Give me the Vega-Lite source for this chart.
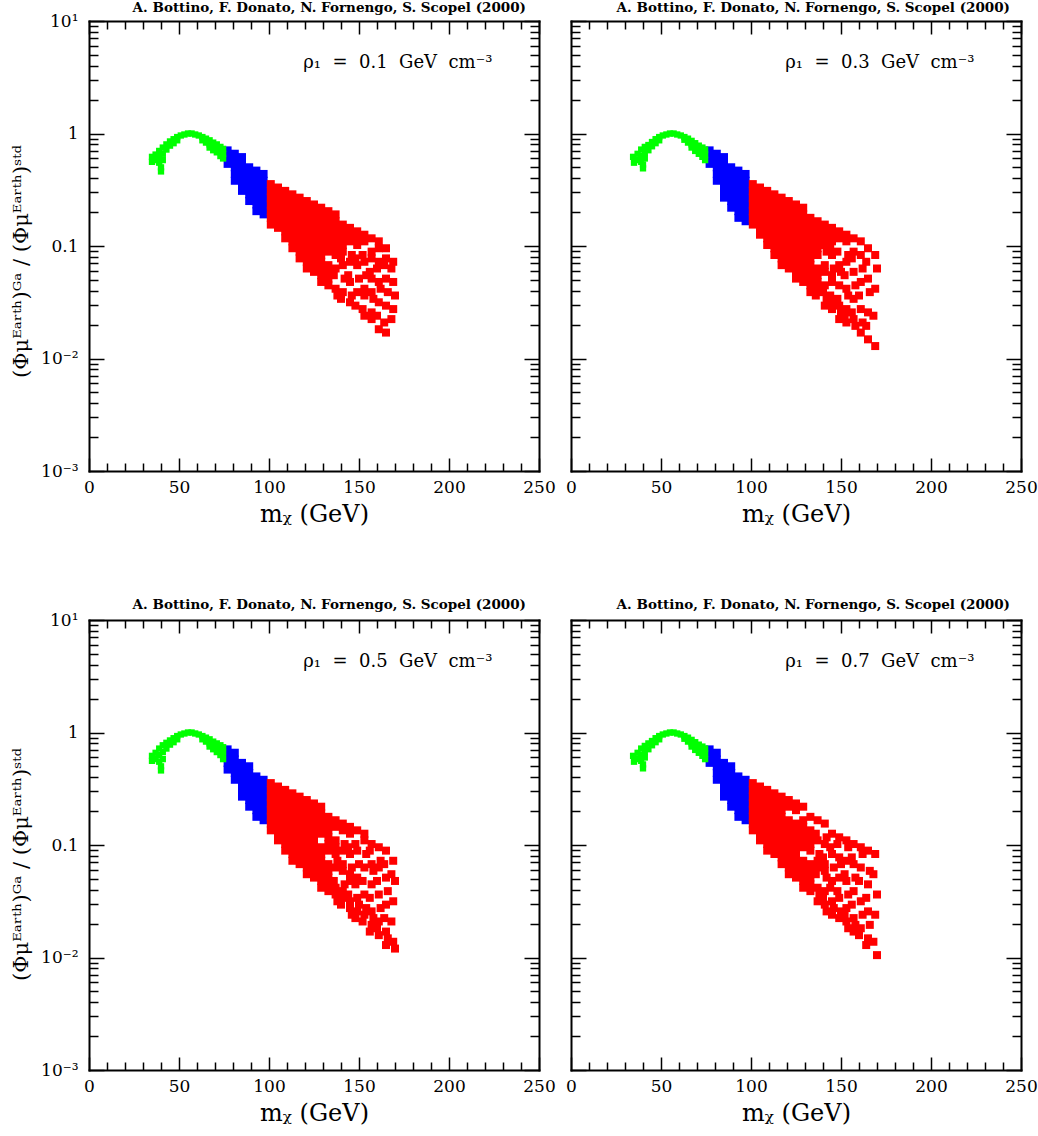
{
  "$schema": "https://vega.github.io/schema/vega-lite/v6.json",
  "background": "white",
  "padding": {"left": 10, "top": 0, "right": 0, "bottom": 2},
  "config": {
    "view": {"stroke": null},
    "axis": {
      "grid": false,
      "domainColor": "#000",
      "domainWidth": 2,
      "domainCap": "square",
      "tickColor": "#000",
      "tickWidth": 1.5,
      "labelFont": "DejaVu Serif",
      "labelFontSize": 17,
      "labelColor": "#000",
      "titleFont": "DejaVu Serif",
      "titleColor": "#000",
      "titleFontWeight": "normal"
    },
    "title": {"font": "DejaVu Serif", "fontSize": 13.5, "fontWeight": "bold", "color": "#000"}
  },
  "datasets": {
    "frame": [{"m": 100, "v": 1}],
    "p01": [
      {"m":35,"v":0.62},{"m":35,"v":0.56},{"m":37,"v":0.65},{"m":37,"v":0.58},{"m":39,"v":0.7},{"m":39,"v":0.62},{"m":39,"v":0.55},{"m":41,"v":0.75},{"m":41,"v":0.66},{"m":41,"v":0.58},{"m":40,"v":0.5},{"m":40,"v":0.46},{"m":43,"v":0.8},{"m":43,"v":0.72},{"m":45,"v":0.85},{"m":45,"v":0.78},{"m":47,"v":0.89},{"m":47,"v":0.82},{"m":49,"v":0.93},{"m":49,"v":0.87},{"m":51,"v":0.96},{"m":53,"v":0.98},{"m":55,"v":1.0},{"m":57,"v":1.0},{"m":59,"v":0.98},{"m":61,"v":0.96},{"m":63,"v":0.93},{"m":63,"v":0.87},{"m":65,"v":0.9},{"m":65,"v":0.83},{"m":67,"v":0.87},{"m":67,"v":0.8},{"m":67,"v":0.75},{"m":69,"v":0.83},{"m":69,"v":0.77},{"m":69,"v":0.71},{"m":71,"v":0.8},{"m":71,"v":0.74},{"m":71,"v":0.68},{"m":73,"v":0.76},{"m":73,"v":0.69},{"m":73,"v":0.63},{"m":74.5,"v":0.73},{"m":74.5,"v":0.66},{"m":74.5,"v":0.6},
      {"m":77,"v":0.708},{"m":77,"v":0.617},{"m":77,"v":0.537},
      {"m":81,"v":0.661},{"m":81,"v":0.575},{"m":81,"v":0.501},{"m":81,"v":0.437},{"m":81,"v":0.38},
      {"m":85,"v":0.617},{"m":85,"v":0.537},{"m":85,"v":0.468},{"m":85,"v":0.407},{"m":85,"v":0.355},{"m":85,"v":0.309},
      {"m":89,"v":0.501},{"m":89,"v":0.437},{"m":89,"v":0.38},{"m":89,"v":0.331},{"m":89,"v":0.288},{"m":89,"v":0.251},
      {"m":93,"v":0.468},{"m":93,"v":0.407},{"m":93,"v":0.355},{"m":93,"v":0.309},{"m":93,"v":0.269},{"m":93,"v":0.234},{"m":93,"v":0.204},
      {"m":97,"v":0.437},{"m":97,"v":0.38},{"m":97,"v":0.331},{"m":97,"v":0.288},{"m":97,"v":0.251},{"m":97,"v":0.219},{"m":97,"v":0.191},
      {"m":101,"v":0.355},{"m":101,"v":0.309},{"m":101,"v":0.269},{"m":101,"v":0.234},{"m":101,"v":0.204},{"m":101,"v":0.178},{"m":101,"v":0.155},
      {"m":105,"v":0.331},{"m":105,"v":0.288},{"m":105,"v":0.251},{"m":105,"v":0.219},{"m":105,"v":0.191},{"m":105,"v":0.166},{"m":105,"v":0.145},
      {"m":109,"v":0.309},{"m":109,"v":0.269},{"m":109,"v":0.234},{"m":109,"v":0.204},{"m":109,"v":0.178},{"m":109,"v":0.155},{"m":109,"v":0.135},{"m":109,"v":0.117},
      {"m":113,"v":0.288},{"m":113,"v":0.251},{"m":113,"v":0.219},{"m":113,"v":0.191},{"m":113,"v":0.166},{"m":113,"v":0.145},{"m":113,"v":0.126},{"m":113,"v":0.11},{"m":113,"v":0.0955},
      {"m":117,"v":0.269},{"m":117,"v":0.234},{"m":117,"v":0.204},{"m":117,"v":0.178},{"m":117,"v":0.155},{"m":117,"v":0.135},{"m":117,"v":0.117},{"m":117,"v":0.102},{"m":117,"v":0.0891},{"m":117,"v":0.0776},
      {"m":121,"v":0.251},{"m":121,"v":0.219},{"m":121,"v":0.191},{"m":121,"v":0.166},{"m":121,"v":0.145},{"m":121,"v":0.126},{"m":121,"v":0.11},{"m":121,"v":0.0955},{"m":121,"v":0.0832},{"m":121,"v":0.0724},{"m":121,"v":0.0631},
      {"m":125,"v":0.234},{"m":125,"v":0.204},{"m":125,"v":0.178},{"m":125,"v":0.155},{"m":125,"v":0.135},{"m":125,"v":0.117},{"m":125,"v":0.102},{"m":125,"v":0.0891},{"m":125,"v":0.0776},{"m":125,"v":0.0676},{"m":125,"v":0.0589},
      {"m":129,"v":0.219},{"m":129,"v":0.191},{"m":129,"v":0.166},{"m":129,"v":0.145},{"m":129,"v":0.126},{"m":129,"v":0.11},{"m":129,"v":0.0955},{"m":129,"v":0.0832},{"m":129,"v":0.0724},{"m":129,"v":0.0631},{"m":129,"v":0.055},{"m":129,"v":0.0479},
      {"m":133,"v":0.204},{"m":133,"v":0.178},{"m":133,"v":0.155},{"m":133,"v":0.135},{"m":133,"v":0.117},{"m":133,"v":0.102},{"m":133,"v":0.0891},{"m":133,"v":0.0676},{"m":133,"v":0.0589},{"m":133,"v":0.0513},{"m":133,"v":0.0447},
      {"m":137,"v":0.191},{"m":137,"v":0.166},{"m":137,"v":0.145},{"m":137,"v":0.126},{"m":137,"v":0.11},{"m":137,"v":0.0955},{"m":137,"v":0.0832},{"m":137,"v":0.0631},{"m":136,"v":0.055},{"m":137,"v":0.0417},{"m":138,"v":0.0363},
      {"m":141,"v":0.155},{"m":141,"v":0.135},{"m":141,"v":0.117},{"m":141,"v":0.102},{"m":141,"v":0.0891},{"m":140,"v":0.0776},{"m":141,"v":0.0676},{"m":142,"v":0.0513},{"m":141,"v":0.0389},{"m":140,"v":0.0339},
      {"m":145,"v":0.145},{"m":145,"v":0.126},{"m":145,"v":0.11},{"m":146,"v":0.0832},{"m":145,"v":0.0724},{"m":144,"v":0.055},{"m":145,"v":0.0479},{"m":146,"v":0.0363},{"m":145,"v":0.0316},
      {"m":149,"v":0.135},{"m":149,"v":0.117},{"m":149,"v":0.102},{"m":148,"v":0.0776},{"m":149,"v":0.0676},{"m":150,"v":0.0513},{"m":149,"v":0.0389},{"m":148,"v":0.0295},
      {"m":153,"v":0.126},{"m":153,"v":0.11},{"m":152,"v":0.0832},{"m":153,"v":0.0724},{"m":154,"v":0.055},{"m":153,"v":0.0417},{"m":153,"v":0.0363},{"m":152,"v":0.0275},{"m":153,"v":0.024},
      {"m":157,"v":0.117},{"m":157,"v":0.0891},{"m":157,"v":0.0776},{"m":156,"v":0.0589},{"m":157,"v":0.0513},{"m":157,"v":0.0389},{"m":158,"v":0.0339},{"m":157,"v":0.0257},{"m":157,"v":0.0224},
      {"m":161,"v":0.11},{"m":161,"v":0.0955},{"m":161,"v":0.0724},{"m":160,"v":0.0631},{"m":161,"v":0.0479},{"m":162,"v":0.0417},{"m":161,"v":0.0316},{"m":160,"v":0.024},{"m":161,"v":0.0182},
      {"m":165,"v":0.0955},{"m":165,"v":0.0776},{"m":164,"v":0.0676},{"m":165,"v":0.0513},{"m":166,"v":0.0389},{"m":165,"v":0.0295},{"m":164,"v":0.0209},{"m":165,"v":0.017},
      {"m":169,"v":0.0724},{"m":168,"v":0.0631},{"m":169,"v":0.0479},{"m":170,"v":0.0363},{"m":169,"v":0.0275},{"m":168,"v":0.0224}
    ],
    "p03": [
      {"m":34.5,"v":0.62},{"m":35,"v":0.55},{"m":37,"v":0.66},{"m":37,"v":0.58},{"m":39,"v":0.72},{"m":39,"v":0.63},{"m":39,"v":0.56},{"m":41,"v":0.76},{"m":41,"v":0.67},{"m":41,"v":0.6},{"m":40,"v":0.53},{"m":40,"v":0.49},{"m":43,"v":0.79},{"m":43,"v":0.71},{"m":45,"v":0.84},{"m":45,"v":0.77},{"m":47,"v":0.89},{"m":47,"v":0.82},{"m":49,"v":0.93},{"m":49,"v":0.87},{"m":51,"v":0.96},{"m":53,"v":0.98},{"m":55,"v":1.0},{"m":57,"v":1.0},{"m":59,"v":0.98},{"m":61,"v":0.96},{"m":63,"v":0.93},{"m":63,"v":0.88},{"m":65,"v":0.9},{"m":65,"v":0.83},{"m":67,"v":0.86},{"m":67,"v":0.8},{"m":67,"v":0.75},{"m":69,"v":0.82},{"m":69,"v":0.76},{"m":69,"v":0.7},{"m":71,"v":0.78},{"m":71,"v":0.72},{"m":71,"v":0.66},{"m":73,"v":0.75},{"m":73,"v":0.68},{"m":73,"v":0.62},{"m":74.5,"v":0.72},{"m":74.5,"v":0.65},{"m":74.5,"v":0.58},
      {"m":77,"v":0.708},{"m":77,"v":0.617},{"m":77,"v":0.537},
      {"m":81,"v":0.661},{"m":81,"v":0.575},{"m":81,"v":0.501},{"m":81,"v":0.437},{"m":81,"v":0.38},
      {"m":85,"v":0.617},{"m":85,"v":0.537},{"m":85,"v":0.468},{"m":85,"v":0.407},{"m":85,"v":0.355},{"m":85,"v":0.309},{"m":85,"v":0.269},
      {"m":89,"v":0.501},{"m":89,"v":0.437},{"m":89,"v":0.38},{"m":89,"v":0.331},{"m":89,"v":0.288},{"m":89,"v":0.251},{"m":89,"v":0.219},
      {"m":93,"v":0.468},{"m":93,"v":0.407},{"m":93,"v":0.355},{"m":93,"v":0.309},{"m":93,"v":0.269},{"m":93,"v":0.234},{"m":93,"v":0.204},{"m":93,"v":0.178},
      {"m":97,"v":0.437},{"m":97,"v":0.38},{"m":97,"v":0.331},{"m":97,"v":0.288},{"m":97,"v":0.251},{"m":97,"v":0.219},{"m":97,"v":0.191},{"m":97,"v":0.166},
      {"m":101,"v":0.355},{"m":101,"v":0.309},{"m":101,"v":0.269},{"m":101,"v":0.234},{"m":101,"v":0.204},{"m":101,"v":0.178},{"m":101,"v":0.155},
      {"m":105,"v":0.331},{"m":105,"v":0.288},{"m":105,"v":0.251},{"m":105,"v":0.219},{"m":105,"v":0.191},{"m":105,"v":0.166},{"m":105,"v":0.145},{"m":105,"v":0.126},
      {"m":109,"v":0.309},{"m":109,"v":0.269},{"m":109,"v":0.234},{"m":109,"v":0.204},{"m":109,"v":0.178},{"m":109,"v":0.155},{"m":109,"v":0.135},{"m":109,"v":0.117},{"m":109,"v":0.102},
      {"m":113,"v":0.288},{"m":113,"v":0.251},{"m":113,"v":0.219},{"m":113,"v":0.191},{"m":113,"v":0.166},{"m":113,"v":0.145},{"m":113,"v":0.126},{"m":113,"v":0.11},{"m":113,"v":0.0955},{"m":113,"v":0.0832},
      {"m":117,"v":0.269},{"m":117,"v":0.234},{"m":117,"v":0.204},{"m":117,"v":0.178},{"m":117,"v":0.155},{"m":117,"v":0.135},{"m":117,"v":0.117},{"m":117,"v":0.102},{"m":117,"v":0.0891},{"m":117,"v":0.0776},{"m":117,"v":0.0676},
      {"m":121,"v":0.251},{"m":121,"v":0.219},{"m":121,"v":0.191},{"m":121,"v":0.166},{"m":121,"v":0.145},{"m":121,"v":0.126},{"m":121,"v":0.11},{"m":121,"v":0.0955},{"m":121,"v":0.0832},{"m":121,"v":0.0724},{"m":121,"v":0.0631},
      {"m":125,"v":0.234},{"m":125,"v":0.204},{"m":125,"v":0.178},{"m":125,"v":0.155},{"m":125,"v":0.135},{"m":125,"v":0.117},{"m":125,"v":0.102},{"m":125,"v":0.0891},{"m":125,"v":0.0776},{"m":125,"v":0.0676},{"m":125,"v":0.0589},{"m":125,"v":0.0513},
      {"m":129,"v":0.219},{"m":129,"v":0.191},{"m":129,"v":0.166},{"m":129,"v":0.145},{"m":129,"v":0.126},{"m":129,"v":0.11},{"m":129,"v":0.0955},{"m":129,"v":0.0832},{"m":129,"v":0.0724},{"m":129,"v":0.0631},{"m":129,"v":0.055},{"m":129,"v":0.0479},
      {"m":133,"v":0.178},{"m":133,"v":0.155},{"m":133,"v":0.135},{"m":133,"v":0.117},{"m":133,"v":0.102},{"m":133,"v":0.0891},{"m":133,"v":0.0776},{"m":133,"v":0.0676},{"m":133,"v":0.0589},{"m":133,"v":0.0513},{"m":133,"v":0.0447},{"m":133,"v":0.0389},
      {"m":137,"v":0.166},{"m":137,"v":0.145},{"m":137,"v":0.126},{"m":137,"v":0.11},{"m":137,"v":0.0955},{"m":137,"v":0.0832},{"m":137,"v":0.0631},{"m":137,"v":0.055},{"m":137,"v":0.0479},{"m":137,"v":0.0417},{"m":136,"v":0.0363},
      {"m":141,"v":0.155},{"m":141,"v":0.135},{"m":141,"v":0.117},{"m":141,"v":0.102},{"m":142,"v":0.0891},{"m":141,"v":0.0676},{"m":141,"v":0.0589},{"m":141,"v":0.0447},{"m":140,"v":0.0389},{"m":142,"v":0.0339},{"m":141,"v":0.0295},
      {"m":145,"v":0.145},{"m":145,"v":0.126},{"m":145,"v":0.11},{"m":144,"v":0.0955},{"m":145,"v":0.0832},{"m":146,"v":0.0631},{"m":145,"v":0.055},{"m":145,"v":0.0479},{"m":144,"v":0.0363},{"m":145,"v":0.0316},{"m":145,"v":0.0275},
      {"m":149,"v":0.135},{"m":149,"v":0.117},{"m":148,"v":0.0891},{"m":149,"v":0.0676},{"m":150,"v":0.0589},{"m":149,"v":0.0447},{"m":148,"v":0.0339},{"m":149,"v":0.0295},{"m":150,"v":0.0257},{"m":149,"v":0.0224},
      {"m":153,"v":0.126},{"m":153,"v":0.11},{"m":154,"v":0.0832},{"m":153,"v":0.0724},{"m":152,"v":0.055},{"m":153,"v":0.0417},{"m":154,"v":0.0363},{"m":153,"v":0.0275},{"m":152,"v":0.024},{"m":153,"v":0.0209},
      {"m":157,"v":0.117},{"m":157,"v":0.0891},{"m":156,"v":0.0776},{"m":157,"v":0.0589},{"m":158,"v":0.0447},{"m":157,"v":0.0339},{"m":156,"v":0.0257},{"m":157,"v":0.0224},{"m":158,"v":0.0195},
      {"m":161,"v":0.11},{"m":161,"v":0.0832},{"m":162,"v":0.0631},{"m":161,"v":0.0479},{"m":160,"v":0.0363},{"m":161,"v":0.0275},{"m":162,"v":0.0209},{"m":161,"v":0.017},
      {"m":165,"v":0.0955},{"m":164,"v":0.0724},{"m":165,"v":0.0513},{"m":166,"v":0.0389},{"m":165,"v":0.0257},{"m":164,"v":0.0195},{"m":165,"v":0.0148},
      {"m":169,"v":0.0832},{"m":170,"v":0.0631},{"m":169,"v":0.0417},{"m":168,"v":0.024},{"m":169,"v":0.0129}
    ],
    "p05": [
      {"m":35,"v":0.62},{"m":35,"v":0.56},{"m":37,"v":0.66},{"m":37,"v":0.58},{"m":39,"v":0.72},{"m":39,"v":0.63},{"m":39,"v":0.55},{"m":41,"v":0.77},{"m":41,"v":0.67},{"m":41,"v":0.58},{"m":40,"v":0.5},{"m":40,"v":0.46},{"m":43,"v":0.81},{"m":43,"v":0.72},{"m":45,"v":0.85},{"m":45,"v":0.78},{"m":47,"v":0.89},{"m":47,"v":0.82},{"m":49,"v":0.93},{"m":49,"v":0.87},{"m":51,"v":0.96},{"m":53,"v":0.98},{"m":55,"v":1.0},{"m":57,"v":1.0},{"m":59,"v":0.98},{"m":61,"v":0.96},{"m":63,"v":0.93},{"m":63,"v":0.87},{"m":65,"v":0.9},{"m":65,"v":0.83},{"m":67,"v":0.87},{"m":67,"v":0.8},{"m":67,"v":0.75},{"m":69,"v":0.83},{"m":69,"v":0.77},{"m":69,"v":0.71},{"m":71,"v":0.8},{"m":71,"v":0.74},{"m":71,"v":0.67},{"m":73,"v":0.77},{"m":73,"v":0.7},{"m":73,"v":0.63},{"m":74.5,"v":0.74},{"m":74.5,"v":0.66},{"m":74.5,"v":0.58},
      {"m":77,"v":0.708},{"m":77,"v":0.617},{"m":77,"v":0.537},{"m":77,"v":0.468},
      {"m":81,"v":0.661},{"m":81,"v":0.575},{"m":81,"v":0.501},{"m":81,"v":0.437},{"m":81,"v":0.38},
      {"m":85,"v":0.537},{"m":85,"v":0.468},{"m":85,"v":0.407},{"m":85,"v":0.355},{"m":85,"v":0.309},{"m":85,"v":0.269},
      {"m":89,"v":0.501},{"m":89,"v":0.437},{"m":89,"v":0.38},{"m":89,"v":0.331},{"m":89,"v":0.288},{"m":89,"v":0.251},{"m":89,"v":0.219},
      {"m":93,"v":0.407},{"m":93,"v":0.355},{"m":93,"v":0.309},{"m":93,"v":0.269},{"m":93,"v":0.234},{"m":93,"v":0.204},{"m":93,"v":0.178},
      {"m":97,"v":0.38},{"m":97,"v":0.331},{"m":97,"v":0.288},{"m":97,"v":0.251},{"m":97,"v":0.219},{"m":97,"v":0.191},{"m":97,"v":0.166},
      {"m":101,"v":0.355},{"m":101,"v":0.309},{"m":101,"v":0.269},{"m":101,"v":0.234},{"m":101,"v":0.204},{"m":101,"v":0.178},{"m":101,"v":0.155},{"m":101,"v":0.135},
      {"m":105,"v":0.331},{"m":105,"v":0.288},{"m":105,"v":0.251},{"m":105,"v":0.219},{"m":105,"v":0.191},{"m":105,"v":0.166},{"m":105,"v":0.145},{"m":105,"v":0.126},{"m":105,"v":0.11},
      {"m":109,"v":0.309},{"m":109,"v":0.269},{"m":109,"v":0.234},{"m":109,"v":0.204},{"m":109,"v":0.178},{"m":109,"v":0.155},{"m":109,"v":0.135},{"m":109,"v":0.117},{"m":109,"v":0.102},{"m":109,"v":0.0891},
      {"m":113,"v":0.288},{"m":113,"v":0.251},{"m":113,"v":0.219},{"m":113,"v":0.191},{"m":113,"v":0.166},{"m":113,"v":0.145},{"m":113,"v":0.126},{"m":113,"v":0.11},{"m":113,"v":0.0955},{"m":113,"v":0.0832},{"m":113,"v":0.0724},
      {"m":117,"v":0.269},{"m":117,"v":0.234},{"m":117,"v":0.204},{"m":117,"v":0.178},{"m":117,"v":0.155},{"m":117,"v":0.135},{"m":117,"v":0.117},{"m":117,"v":0.102},{"m":117,"v":0.0891},{"m":117,"v":0.0776},{"m":117,"v":0.0676},
      {"m":121,"v":0.251},{"m":121,"v":0.219},{"m":121,"v":0.191},{"m":121,"v":0.166},{"m":121,"v":0.145},{"m":121,"v":0.126},{"m":121,"v":0.11},{"m":121,"v":0.0955},{"m":121,"v":0.0832},{"m":121,"v":0.0724},{"m":121,"v":0.0631},{"m":121,"v":0.055},
      {"m":125,"v":0.234},{"m":125,"v":0.204},{"m":125,"v":0.178},{"m":125,"v":0.155},{"m":125,"v":0.135},{"m":125,"v":0.117},{"m":125,"v":0.102},{"m":125,"v":0.0891},{"m":125,"v":0.0776},{"m":125,"v":0.0676},{"m":125,"v":0.0589},{"m":125,"v":0.0513},
      {"m":129,"v":0.219},{"m":129,"v":0.191},{"m":129,"v":0.166},{"m":129,"v":0.145},{"m":129,"v":0.126},{"m":129,"v":0.0955},{"m":129,"v":0.0832},{"m":129,"v":0.0724},{"m":129,"v":0.0631},{"m":129,"v":0.055},{"m":129,"v":0.0479},{"m":129,"v":0.0417},
      {"m":133,"v":0.178},{"m":133,"v":0.155},{"m":133,"v":0.135},{"m":133,"v":0.117},{"m":133,"v":0.102},{"m":133,"v":0.0891},{"m":133,"v":0.0676},{"m":133,"v":0.0589},{"m":133,"v":0.0513},{"m":133,"v":0.0447},{"m":133,"v":0.0389},
      {"m":137,"v":0.166},{"m":137,"v":0.145},{"m":137,"v":0.11},{"m":137,"v":0.0955},{"m":137,"v":0.0832},{"m":138,"v":0.0724},{"m":137,"v":0.0631},{"m":136,"v":0.0479},{"m":137,"v":0.0417},{"m":137,"v":0.0363},{"m":138,"v":0.0316},
      {"m":141,"v":0.155},{"m":141,"v":0.135},{"m":142,"v":0.102},{"m":141,"v":0.0891},{"m":141,"v":0.0676},{"m":141,"v":0.0589},{"m":142,"v":0.0447},{"m":141,"v":0.0389},{"m":141,"v":0.0339},{"m":140,"v":0.0295},
      {"m":145,"v":0.145},{"m":145,"v":0.126},{"m":144,"v":0.0955},{"m":145,"v":0.0832},{"m":146,"v":0.0631},{"m":145,"v":0.055},{"m":145,"v":0.0479},{"m":144,"v":0.0363},{"m":145,"v":0.0316},{"m":145,"v":0.0275},{"m":146,"v":0.024},
      {"m":149,"v":0.135},{"m":148,"v":0.102},{"m":149,"v":0.0891},{"m":150,"v":0.0676},{"m":149,"v":0.0513},{"m":148,"v":0.0447},{"m":149,"v":0.0339},{"m":150,"v":0.0295},{"m":149,"v":0.0257},{"m":148,"v":0.0224},
      {"m":153,"v":0.126},{"m":153,"v":0.11},{"m":154,"v":0.0832},{"m":153,"v":0.0631},{"m":152,"v":0.0479},{"m":153,"v":0.0363},{"m":154,"v":0.0275},{"m":153,"v":0.024},{"m":152,"v":0.0209},
      {"m":157,"v":0.102},{"m":156,"v":0.0891},{"m":157,"v":0.0676},{"m":158,"v":0.0589},{"m":157,"v":0.0447},{"m":156,"v":0.0339},{"m":157,"v":0.0257},{"m":158,"v":0.0224},{"m":157,"v":0.0195},{"m":156,"v":0.017},
      {"m":161,"v":0.0955},{"m":162,"v":0.0724},{"m":161,"v":0.0631},{"m":160,"v":0.0479},{"m":161,"v":0.0363},{"m":162,"v":0.0275},{"m":161,"v":0.0209},{"m":160,"v":0.0182},{"m":161,"v":0.0158},
      {"m":165,"v":0.0891},{"m":164,"v":0.0676},{"m":165,"v":0.0513},{"m":166,"v":0.0389},{"m":165,"v":0.0295},{"m":164,"v":0.0224},{"m":165,"v":0.017},{"m":166,"v":0.0148},{"m":165,"v":0.0129},
      {"m":169,"v":0.0724},{"m":168,"v":0.055},{"m":170,"v":0.0479},{"m":169,"v":0.0316},{"m":168,"v":0.0209},{"m":169,"v":0.0138},{"m":170,"v":0.012}
    ],
    "p07": [
      {"m":34.5,"v":0.62},{"m":35,"v":0.55},{"m":37,"v":0.66},{"m":37,"v":0.58},{"m":39,"v":0.72},{"m":39,"v":0.63},{"m":39,"v":0.56},{"m":41,"v":0.76},{"m":41,"v":0.67},{"m":41,"v":0.6},{"m":40,"v":0.52},{"m":40,"v":0.48},{"m":43,"v":0.8},{"m":43,"v":0.71},{"m":45,"v":0.84},{"m":45,"v":0.77},{"m":47,"v":0.89},{"m":47,"v":0.82},{"m":49,"v":0.93},{"m":49,"v":0.87},{"m":51,"v":0.96},{"m":53,"v":0.98},{"m":55,"v":1.0},{"m":57,"v":1.0},{"m":59,"v":0.98},{"m":61,"v":0.96},{"m":63,"v":0.93},{"m":63,"v":0.88},{"m":65,"v":0.9},{"m":65,"v":0.83},{"m":67,"v":0.86},{"m":67,"v":0.8},{"m":67,"v":0.75},{"m":69,"v":0.82},{"m":69,"v":0.76},{"m":69,"v":0.7},{"m":71,"v":0.78},{"m":71,"v":0.72},{"m":71,"v":0.66},{"m":73,"v":0.75},{"m":73,"v":0.68},{"m":73,"v":0.62},{"m":74.5,"v":0.72},{"m":74.5,"v":0.65},{"m":74.5,"v":0.58},
      {"m":77,"v":0.708},{"m":77,"v":0.617},{"m":77,"v":0.537},
      {"m":81,"v":0.661},{"m":81,"v":0.575},{"m":81,"v":0.501},{"m":81,"v":0.437},{"m":81,"v":0.38},
      {"m":85,"v":0.537},{"m":85,"v":0.468},{"m":85,"v":0.407},{"m":85,"v":0.355},{"m":85,"v":0.309},{"m":85,"v":0.269},
      {"m":89,"v":0.501},{"m":89,"v":0.437},{"m":89,"v":0.38},{"m":89,"v":0.331},{"m":89,"v":0.288},{"m":89,"v":0.251},{"m":89,"v":0.219},
      {"m":93,"v":0.407},{"m":93,"v":0.355},{"m":93,"v":0.309},{"m":93,"v":0.269},{"m":93,"v":0.234},{"m":93,"v":0.204},{"m":93,"v":0.178},
      {"m":97,"v":0.38},{"m":97,"v":0.331},{"m":97,"v":0.288},{"m":97,"v":0.251},{"m":97,"v":0.219},{"m":97,"v":0.191},{"m":97,"v":0.166},
      {"m":101,"v":0.355},{"m":101,"v":0.309},{"m":101,"v":0.269},{"m":101,"v":0.234},{"m":101,"v":0.204},{"m":101,"v":0.178},{"m":101,"v":0.155},{"m":101,"v":0.135},
      {"m":105,"v":0.331},{"m":105,"v":0.288},{"m":105,"v":0.251},{"m":105,"v":0.219},{"m":105,"v":0.191},{"m":105,"v":0.166},{"m":105,"v":0.145},{"m":105,"v":0.126},{"m":105,"v":0.11},
      {"m":109,"v":0.309},{"m":109,"v":0.269},{"m":109,"v":0.234},{"m":109,"v":0.204},{"m":109,"v":0.178},{"m":109,"v":0.155},{"m":109,"v":0.135},{"m":109,"v":0.117},{"m":109,"v":0.102},{"m":109,"v":0.0891},
      {"m":113,"v":0.288},{"m":113,"v":0.251},{"m":113,"v":0.219},{"m":113,"v":0.191},{"m":113,"v":0.166},{"m":113,"v":0.145},{"m":113,"v":0.126},{"m":113,"v":0.11},{"m":113,"v":0.0955},{"m":113,"v":0.0832},
      {"m":117,"v":0.269},{"m":117,"v":0.234},{"m":117,"v":0.204},{"m":117,"v":0.178},{"m":117,"v":0.155},{"m":117,"v":0.135},{"m":117,"v":0.117},{"m":117,"v":0.102},{"m":117,"v":0.0891},{"m":117,"v":0.0776},{"m":117,"v":0.0676},
      {"m":121,"v":0.251},{"m":121,"v":0.219},{"m":121,"v":0.166},{"m":121,"v":0.145},{"m":121,"v":0.126},{"m":121,"v":0.11},{"m":121,"v":0.0955},{"m":121,"v":0.0832},{"m":121,"v":0.0724},{"m":121,"v":0.0631},{"m":121,"v":0.055},
      {"m":125,"v":0.234},{"m":125,"v":0.204},{"m":125,"v":0.155},{"m":125,"v":0.135},{"m":125,"v":0.117},{"m":125,"v":0.102},{"m":125,"v":0.0891},{"m":125,"v":0.0776},{"m":125,"v":0.0676},{"m":125,"v":0.0589},{"m":125,"v":0.0513},
      {"m":129,"v":0.219},{"m":129,"v":0.166},{"m":129,"v":0.145},{"m":129,"v":0.126},{"m":129,"v":0.11},{"m":129,"v":0.0955},{"m":129,"v":0.0724},{"m":129,"v":0.0631},{"m":129,"v":0.055},{"m":129,"v":0.0479},{"m":129,"v":0.0417},
      {"m":133,"v":0.178},{"m":133,"v":0.135},{"m":133,"v":0.117},{"m":133,"v":0.102},{"m":133,"v":0.0891},{"m":133,"v":0.0676},{"m":133,"v":0.0589},{"m":133,"v":0.0513},{"m":133,"v":0.0447},{"m":133,"v":0.0389},
      {"m":137,"v":0.166},{"m":136,"v":0.126},{"m":137,"v":0.11},{"m":138,"v":0.0832},{"m":137,"v":0.0724},{"m":137,"v":0.0631},{"m":136,"v":0.055},{"m":137,"v":0.0417},{"m":138,"v":0.0363},{"m":137,"v":0.0316},
      {"m":141,"v":0.155},{"m":142,"v":0.117},{"m":141,"v":0.102},{"m":140,"v":0.0776},{"m":141,"v":0.0676},{"m":141,"v":0.0589},{"m":142,"v":0.0513},{"m":141,"v":0.0389},{"m":140,"v":0.0339},{"m":141,"v":0.0295},{"m":142,"v":0.0257},
      {"m":145,"v":0.126},{"m":144,"v":0.0955},{"m":145,"v":0.0832},{"m":146,"v":0.0631},{"m":145,"v":0.0479},{"m":144,"v":0.0417},{"m":145,"v":0.0316},{"m":146,"v":0.0275},{"m":145,"v":0.024},
      {"m":149,"v":0.117},{"m":148,"v":0.102},{"m":149,"v":0.0776},{"m":150,"v":0.0676},{"m":149,"v":0.0513},{"m":148,"v":0.0389},{"m":149,"v":0.0339},{"m":150,"v":0.0257},{"m":149,"v":0.0224},
      {"m":153,"v":0.11},{"m":154,"v":0.0955},{"m":153,"v":0.0724},{"m":152,"v":0.055},{"m":153,"v":0.0479},{"m":154,"v":0.0363},{"m":153,"v":0.0275},{"m":152,"v":0.024},{"m":153,"v":0.0209},{"m":154,"v":0.0182},
      {"m":157,"v":0.102},{"m":156,"v":0.0776},{"m":157,"v":0.0676},{"m":158,"v":0.0513},{"m":157,"v":0.0389},{"m":156,"v":0.0295},{"m":157,"v":0.0224},{"m":158,"v":0.0195},{"m":157,"v":0.017},
      {"m":161,"v":0.0955},{"m":162,"v":0.0832},{"m":161,"v":0.0631},{"m":160,"v":0.0479},{"m":161,"v":0.0316},{"m":162,"v":0.024},{"m":161,"v":0.0182},{"m":160,"v":0.0158},
      {"m":165,"v":0.0891},{"m":166,"v":0.0589},{"m":165,"v":0.0447},{"m":164,"v":0.0339},{"m":165,"v":0.0257},{"m":166,"v":0.0195},{"m":165,"v":0.0148},{"m":164,"v":0.0129},
      {"m":169,"v":0.0832},{"m":168,"v":0.055},{"m":170,"v":0.0363},{"m":169,"v":0.024},{"m":168,"v":0.0138},{"m":170,"v":0.0105}
    ]
  },
  "columns": 2,
  "spacing": {"row": 149, "column": 32},
  "bounds": "flush",
  "concat": [
    {
      "width": 450, "height": 450,
      "title": {"text": "A. Bottino, F. Donato, N. Fornengo, S. Scopel (2000)", "anchor": "end", "frame": "group", "dx": -13, "offset": -2},
      "layer": [
        {"data": {"name": "p01"}, "transform": [{"filter": "datum.m >= 75"}], "mark": {"type": "square", "size": 64, "opacity": 1},
         "encoding": {
           "x": {"field": "m", "type": "quantitative", "scale": {"domain": [0, 250], "nice": false, "zero": false},
                 "axis": {"orient": "bottom", "values": [0, 50, 100, 150, 200, 250], "tickSize": -13, "labelPadding": 21, "labelFlush": false, "title": "mᵪ (GeV)", "titleFontSize": 24, "titlePadding": 7}},
           "y": {"field": "v", "type": "quantitative", "scale": {"type": "log", "domain": [0.001, 10], "nice": false},
                 "axis": {"orient": "left", "values": [0.001, 0.01, 0.1, 1, 10], "tickSize": -15, "labelPadding": 26, "labelExpr": "datum.value > 5 ? '10¹' : datum.value > 0.5 ? '1' : datum.value > 0.05 ? '0.1' : datum.value > 0.005 ? '10⁻²' : '10⁻³'", "title": "(Φμᴱᵃʳᵗʰ)ᴳᵃ  /  (Φμᴱᵃʳᵗʰ)ˢᵗᵈ", "titleFontSize": 21, "titlePadding": 9, "titleY": 240}},
           "color": {"field": "m", "type": "quantitative", "scale": {"type": "threshold", "domain": [75, 100], "range": ["#00ff00", "#0000ff", "#ff0000"]}, "legend": null}
         }},
        {"data": {"name": "p01"}, "transform": [{"filter": "datum.m < 75"}], "mark": {"type": "square", "size": 40, "opacity": 1, "color": "#00ff00"},
         "encoding": {
           "x": {"field": "m", "type": "quantitative", "scale": {"domain": [0, 250], "nice": false, "zero": false}, "axis": null},
           "y": {"field": "v", "type": "quantitative", "scale": {"type": "log", "domain": [0.001, 10], "nice": false}, "axis": null}
         }},
        {"data": {"name": "frame"}, "mark": {"type": "point", "opacity": 0},
         "encoding": {
           "x": {"field": "m", "type": "quantitative", "scale": {"domain": [0, 250], "nice": false, "zero": false},
                 "axis": {"orient": "bottom", "values": [10, 20, 30, 40, 60, 70, 80, 90, 110, 120, 130, 140, 160, 170, 180, 190, 210, 220, 230, 240], "tickSize": -8, "labels": false, "domain": false, "title": null}},
           "y": {"field": "v", "type": "quantitative", "scale": {"type": "log", "domain": [0.001, 10], "nice": false},
                 "axis": {"orient": "left", "values": [0.002, 0.003, 0.004, 0.005, 0.006, 0.007, 0.008, 0.009, 0.02, 0.03, 0.04, 0.05, 0.06, 0.07, 0.08, 0.09, 0.2, 0.3, 0.4, 0.5, 0.6, 0.7, 0.8, 0.9, 2, 3, 4, 5, 6, 7, 8, 9], "tickSize": -9, "labels": false, "domain": false, "title": null}}
         }},
        {"data": {"name": "frame"}, "mark": {"type": "point", "opacity": 0},
         "encoding": {
           "x": {"field": "m", "type": "quantitative", "scale": {"domain": [0, 250], "nice": false, "zero": false},
                 "axis": {"orient": "top", "values": [0, 50, 100, 150, 200, 250], "tickSize": -13, "labels": false, "title": null}},
           "y": {"field": "v", "type": "quantitative", "scale": {"type": "log", "domain": [0.001, 10], "nice": false},
                 "axis": {"orient": "right", "values": [0.001, 0.01, 0.1, 1, 10], "tickSize": -15, "labels": false, "title": null}}
         }},
        {"data": {"name": "frame"}, "mark": {"type": "point", "opacity": 0},
         "encoding": {
           "x": {"field": "m", "type": "quantitative", "scale": {"domain": [0, 250], "nice": false, "zero": false},
                 "axis": {"orient": "top", "values": [10, 20, 30, 40, 60, 70, 80, 90, 110, 120, 130, 140, 160, 170, 180, 190, 210, 220, 230, 240], "tickSize": -8, "labels": false, "domain": false, "title": null}},
           "y": {"field": "v", "type": "quantitative", "scale": {"type": "log", "domain": [0.001, 10], "nice": false},
                 "axis": {"orient": "right", "values": [0.002, 0.003, 0.004, 0.005, 0.006, 0.007, 0.008, 0.009, 0.02, 0.03, 0.04, 0.05, 0.06, 0.07, 0.08, 0.09, 0.2, 0.3, 0.4, 0.5, 0.6, 0.7, 0.8, 0.9, 2, 3, 4, 5, 6, 7, 8, 9], "tickSize": -9, "labels": false, "domain": false, "title": null}}
         }},
        {"data": {"name": "frame"}, "mark": {"type": "text", "text": "ρ₁\u00a0 =\u00a0 0.1\u00a0 GeV\u00a0 cm⁻³", "align": "left", "baseline": "middle", "font": "DejaVu Serif", "fontSize": 18, "color": "#000"},
         "encoding": {
           "x": {"datum": 119, "type": "quantitative", "scale": {"domain": [0, 250], "nice": false, "zero": false}, "axis": null},
           "y": {"datum": 4.2, "type": "quantitative", "scale": {"type": "log", "domain": [0.001, 10], "nice": false}, "axis": null}
         }}
      ],
      "resolve": {"scale": {"x": "independent", "y": "independent"}}
    },
    {
      "width": 450, "height": 450,
      "title": {"text": "A. Bottino, F. Donato, N. Fornengo, S. Scopel (2000)", "anchor": "end", "frame": "group", "dx": -11, "offset": 6},
      "layer": [
        {"data": {"name": "p03"}, "transform": [{"filter": "datum.m >= 75"}], "mark": {"type": "square", "size": 64, "opacity": 1},
         "encoding": {
           "x": {"field": "m", "type": "quantitative", "scale": {"domain": [0, 250], "nice": false, "zero": false},
                 "axis": {"orient": "bottom", "values": [0, 50, 100, 150, 200, 250], "tickSize": -13, "labelPadding": 21, "labelFlush": false, "title": "mᵪ (GeV)", "titleFontSize": 24, "titlePadding": 7}},
           "y": {"field": "v", "type": "quantitative", "scale": {"type": "log", "domain": [0.001, 10], "nice": false},
                 "axis": {"orient": "left", "values": [0.001, 0.01, 0.1, 1, 10], "tickSize": -15, "labels": false, "title": null}},
           "color": {"field": "m", "type": "quantitative", "scale": {"type": "threshold", "domain": [75, 100], "range": ["#00ff00", "#0000ff", "#ff0000"]}, "legend": null}
         }},
        {"data": {"name": "p03"}, "transform": [{"filter": "datum.m < 75"}], "mark": {"type": "square", "size": 40, "opacity": 1, "color": "#00ff00"},
         "encoding": {
           "x": {"field": "m", "type": "quantitative", "scale": {"domain": [0, 250], "nice": false, "zero": false}, "axis": null},
           "y": {"field": "v", "type": "quantitative", "scale": {"type": "log", "domain": [0.001, 10], "nice": false}, "axis": null}
         }},
        {"data": {"name": "frame"}, "mark": {"type": "point", "opacity": 0},
         "encoding": {
           "x": {"field": "m", "type": "quantitative", "scale": {"domain": [0, 250], "nice": false, "zero": false},
                 "axis": {"orient": "bottom", "values": [10, 20, 30, 40, 60, 70, 80, 90, 110, 120, 130, 140, 160, 170, 180, 190, 210, 220, 230, 240], "tickSize": -8, "labels": false, "domain": false, "title": null}},
           "y": {"field": "v", "type": "quantitative", "scale": {"type": "log", "domain": [0.001, 10], "nice": false},
                 "axis": {"orient": "left", "values": [0.002, 0.003, 0.004, 0.005, 0.006, 0.007, 0.008, 0.009, 0.02, 0.03, 0.04, 0.05, 0.06, 0.07, 0.08, 0.09, 0.2, 0.3, 0.4, 0.5, 0.6, 0.7, 0.8, 0.9, 2, 3, 4, 5, 6, 7, 8, 9], "tickSize": -9, "labels": false, "domain": false, "title": null}}
         }},
        {"data": {"name": "frame"}, "mark": {"type": "point", "opacity": 0},
         "encoding": {
           "x": {"field": "m", "type": "quantitative", "scale": {"domain": [0, 250], "nice": false, "zero": false},
                 "axis": {"orient": "top", "values": [0, 50, 100, 150, 200, 250], "tickSize": -13, "labels": false, "title": null}},
           "y": {"field": "v", "type": "quantitative", "scale": {"type": "log", "domain": [0.001, 10], "nice": false},
                 "axis": {"orient": "right", "values": [0.001, 0.01, 0.1, 1, 10], "tickSize": -15, "labels": false, "title": null}}
         }},
        {"data": {"name": "frame"}, "mark": {"type": "point", "opacity": 0},
         "encoding": {
           "x": {"field": "m", "type": "quantitative", "scale": {"domain": [0, 250], "nice": false, "zero": false},
                 "axis": {"orient": "top", "values": [10, 20, 30, 40, 60, 70, 80, 90, 110, 120, 130, 140, 160, 170, 180, 190, 210, 220, 230, 240], "tickSize": -8, "labels": false, "domain": false, "title": null}},
           "y": {"field": "v", "type": "quantitative", "scale": {"type": "log", "domain": [0.001, 10], "nice": false},
                 "axis": {"orient": "right", "values": [0.002, 0.003, 0.004, 0.005, 0.006, 0.007, 0.008, 0.009, 0.02, 0.03, 0.04, 0.05, 0.06, 0.07, 0.08, 0.09, 0.2, 0.3, 0.4, 0.5, 0.6, 0.7, 0.8, 0.9, 2, 3, 4, 5, 6, 7, 8, 9], "tickSize": -9, "labels": false, "domain": false, "title": null}}
         }},
        {"data": {"name": "frame"}, "mark": {"type": "text", "text": "ρ₁\u00a0 =\u00a0 0.3\u00a0 GeV\u00a0 cm⁻³", "align": "left", "baseline": "middle", "font": "DejaVu Serif", "fontSize": 18, "color": "#000"},
         "encoding": {
           "x": {"datum": 119, "type": "quantitative", "scale": {"domain": [0, 250], "nice": false, "zero": false}, "axis": null},
           "y": {"datum": 4.2, "type": "quantitative", "scale": {"type": "log", "domain": [0.001, 10], "nice": false}, "axis": null}
         }}
      ],
      "resolve": {"scale": {"x": "independent", "y": "independent"}}
    },
    {
      "width": 450, "height": 450,
      "title": {"text": "A. Bottino, F. Donato, N. Fornengo, S. Scopel (2000)", "anchor": "end", "frame": "group", "dx": -13, "offset": 0},
      "layer": [
        {"data": {"name": "p05"}, "transform": [{"filter": "datum.m >= 75"}], "mark": {"type": "square", "size": 64, "opacity": 1},
         "encoding": {
           "x": {"field": "m", "type": "quantitative", "scale": {"domain": [0, 250], "nice": false, "zero": false},
                 "axis": {"orient": "bottom", "values": [0, 50, 100, 150, 200, 250], "tickSize": -13, "labelPadding": 21, "labelFlush": false, "title": "mᵪ (GeV)", "titleFontSize": 24, "titlePadding": 7}},
           "y": {"field": "v", "type": "quantitative", "scale": {"type": "log", "domain": [0.001, 10], "nice": false},
                 "axis": {"orient": "left", "values": [0.001, 0.01, 0.1, 1, 10], "tickSize": -15, "labelPadding": 26, "labelExpr": "datum.value > 5 ? '10¹' : datum.value > 0.5 ? '1' : datum.value > 0.05 ? '0.1' : datum.value > 0.005 ? '10⁻²' : '10⁻³'", "title": "(Φμᴱᵃʳᵗʰ)ᴳᵃ  /  (Φμᴱᵃʳᵗʰ)ˢᵗᵈ", "titleFontSize": 21, "titlePadding": 9, "titleY": 244}},
           "color": {"field": "m", "type": "quantitative", "scale": {"type": "threshold", "domain": [75, 100], "range": ["#00ff00", "#0000ff", "#ff0000"]}, "legend": null}
         }},
        {"data": {"name": "p05"}, "transform": [{"filter": "datum.m < 75"}], "mark": {"type": "square", "size": 40, "opacity": 1, "color": "#00ff00"},
         "encoding": {
           "x": {"field": "m", "type": "quantitative", "scale": {"domain": [0, 250], "nice": false, "zero": false}, "axis": null},
           "y": {"field": "v", "type": "quantitative", "scale": {"type": "log", "domain": [0.001, 10], "nice": false}, "axis": null}
         }},
        {"data": {"name": "frame"}, "mark": {"type": "point", "opacity": 0},
         "encoding": {
           "x": {"field": "m", "type": "quantitative", "scale": {"domain": [0, 250], "nice": false, "zero": false},
                 "axis": {"orient": "bottom", "values": [10, 20, 30, 40, 60, 70, 80, 90, 110, 120, 130, 140, 160, 170, 180, 190, 210, 220, 230, 240], "tickSize": -8, "labels": false, "domain": false, "title": null}},
           "y": {"field": "v", "type": "quantitative", "scale": {"type": "log", "domain": [0.001, 10], "nice": false},
                 "axis": {"orient": "left", "values": [0.002, 0.003, 0.004, 0.005, 0.006, 0.007, 0.008, 0.009, 0.02, 0.03, 0.04, 0.05, 0.06, 0.07, 0.08, 0.09, 0.2, 0.3, 0.4, 0.5, 0.6, 0.7, 0.8, 0.9, 2, 3, 4, 5, 6, 7, 8, 9], "tickSize": -9, "labels": false, "domain": false, "title": null}}
         }},
        {"data": {"name": "frame"}, "mark": {"type": "point", "opacity": 0},
         "encoding": {
           "x": {"field": "m", "type": "quantitative", "scale": {"domain": [0, 250], "nice": false, "zero": false},
                 "axis": {"orient": "top", "values": [0, 50, 100, 150, 200, 250], "tickSize": -13, "labels": false, "title": null}},
           "y": {"field": "v", "type": "quantitative", "scale": {"type": "log", "domain": [0.001, 10], "nice": false},
                 "axis": {"orient": "right", "values": [0.001, 0.01, 0.1, 1, 10], "tickSize": -15, "labels": false, "title": null}}
         }},
        {"data": {"name": "frame"}, "mark": {"type": "point", "opacity": 0},
         "encoding": {
           "x": {"field": "m", "type": "quantitative", "scale": {"domain": [0, 250], "nice": false, "zero": false},
                 "axis": {"orient": "top", "values": [10, 20, 30, 40, 60, 70, 80, 90, 110, 120, 130, 140, 160, 170, 180, 190, 210, 220, 230, 240], "tickSize": -8, "labels": false, "domain": false, "title": null}},
           "y": {"field": "v", "type": "quantitative", "scale": {"type": "log", "domain": [0.001, 10], "nice": false},
                 "axis": {"orient": "right", "values": [0.002, 0.003, 0.004, 0.005, 0.006, 0.007, 0.008, 0.009, 0.02, 0.03, 0.04, 0.05, 0.06, 0.07, 0.08, 0.09, 0.2, 0.3, 0.4, 0.5, 0.6, 0.7, 0.8, 0.9, 2, 3, 4, 5, 6, 7, 8, 9], "tickSize": -9, "labels": false, "domain": false, "title": null}}
         }},
        {"data": {"name": "frame"}, "mark": {"type": "text", "text": "ρ₁\u00a0 =\u00a0 0.5\u00a0 GeV\u00a0 cm⁻³", "align": "left", "baseline": "middle", "font": "DejaVu Serif", "fontSize": 18, "color": "#000"},
         "encoding": {
           "x": {"datum": 119, "type": "quantitative", "scale": {"domain": [0, 250], "nice": false, "zero": false}, "axis": null},
           "y": {"datum": 4.2, "type": "quantitative", "scale": {"type": "log", "domain": [0.001, 10], "nice": false}, "axis": null}
         }}
      ],
      "resolve": {"scale": {"x": "independent", "y": "independent"}}
    },
    {
      "width": 450, "height": 450,
      "title": {"text": "A. Bottino, F. Donato, N. Fornengo, S. Scopel (2000)", "anchor": "end", "frame": "group", "dx": -11, "offset": 8},
      "layer": [
        {"data": {"name": "p07"}, "transform": [{"filter": "datum.m >= 75"}], "mark": {"type": "square", "size": 64, "opacity": 1},
         "encoding": {
           "x": {"field": "m", "type": "quantitative", "scale": {"domain": [0, 250], "nice": false, "zero": false},
                 "axis": {"orient": "bottom", "values": [0, 50, 100, 150, 200, 250], "tickSize": -13, "labelPadding": 21, "labelFlush": false, "title": "mᵪ (GeV)", "titleFontSize": 24, "titlePadding": 7}},
           "y": {"field": "v", "type": "quantitative", "scale": {"type": "log", "domain": [0.001, 10], "nice": false},
                 "axis": {"orient": "left", "values": [0.001, 0.01, 0.1, 1, 10], "tickSize": -15, "labels": false, "title": null}},
           "color": {"field": "m", "type": "quantitative", "scale": {"type": "threshold", "domain": [75, 100], "range": ["#00ff00", "#0000ff", "#ff0000"]}, "legend": null}
         }},
        {"data": {"name": "p07"}, "transform": [{"filter": "datum.m < 75"}], "mark": {"type": "square", "size": 40, "opacity": 1, "color": "#00ff00"},
         "encoding": {
           "x": {"field": "m", "type": "quantitative", "scale": {"domain": [0, 250], "nice": false, "zero": false}, "axis": null},
           "y": {"field": "v", "type": "quantitative", "scale": {"type": "log", "domain": [0.001, 10], "nice": false}, "axis": null}
         }},
        {"data": {"name": "frame"}, "mark": {"type": "point", "opacity": 0},
         "encoding": {
           "x": {"field": "m", "type": "quantitative", "scale": {"domain": [0, 250], "nice": false, "zero": false},
                 "axis": {"orient": "bottom", "values": [10, 20, 30, 40, 60, 70, 80, 90, 110, 120, 130, 140, 160, 170, 180, 190, 210, 220, 230, 240], "tickSize": -8, "labels": false, "domain": false, "title": null}},
           "y": {"field": "v", "type": "quantitative", "scale": {"type": "log", "domain": [0.001, 10], "nice": false},
                 "axis": {"orient": "left", "values": [0.002, 0.003, 0.004, 0.005, 0.006, 0.007, 0.008, 0.009, 0.02, 0.03, 0.04, 0.05, 0.06, 0.07, 0.08, 0.09, 0.2, 0.3, 0.4, 0.5, 0.6, 0.7, 0.8, 0.9, 2, 3, 4, 5, 6, 7, 8, 9], "tickSize": -9, "labels": false, "domain": false, "title": null}}
         }},
        {"data": {"name": "frame"}, "mark": {"type": "point", "opacity": 0},
         "encoding": {
           "x": {"field": "m", "type": "quantitative", "scale": {"domain": [0, 250], "nice": false, "zero": false},
                 "axis": {"orient": "top", "values": [0, 50, 100, 150, 200, 250], "tickSize": -13, "labels": false, "title": null}},
           "y": {"field": "v", "type": "quantitative", "scale": {"type": "log", "domain": [0.001, 10], "nice": false},
                 "axis": {"orient": "right", "values": [0.001, 0.01, 0.1, 1, 10], "tickSize": -15, "labels": false, "title": null}}
         }},
        {"data": {"name": "frame"}, "mark": {"type": "point", "opacity": 0},
         "encoding": {
           "x": {"field": "m", "type": "quantitative", "scale": {"domain": [0, 250], "nice": false, "zero": false},
                 "axis": {"orient": "top", "values": [10, 20, 30, 40, 60, 70, 80, 90, 110, 120, 130, 140, 160, 170, 180, 190, 210, 220, 230, 240], "tickSize": -8, "labels": false, "domain": false, "title": null}},
           "y": {"field": "v", "type": "quantitative", "scale": {"type": "log", "domain": [0.001, 10], "nice": false},
                 "axis": {"orient": "right", "values": [0.002, 0.003, 0.004, 0.005, 0.006, 0.007, 0.008, 0.009, 0.02, 0.03, 0.04, 0.05, 0.06, 0.07, 0.08, 0.09, 0.2, 0.3, 0.4, 0.5, 0.6, 0.7, 0.8, 0.9, 2, 3, 4, 5, 6, 7, 8, 9], "tickSize": -9, "labels": false, "domain": false, "title": null}}
         }},
        {"data": {"name": "frame"}, "mark": {"type": "text", "text": "ρ₁\u00a0 =\u00a0 0.7\u00a0 GeV\u00a0 cm⁻³", "align": "left", "baseline": "middle", "font": "DejaVu Serif", "fontSize": 18, "color": "#000"},
         "encoding": {
           "x": {"datum": 119, "type": "quantitative", "scale": {"domain": [0, 250], "nice": false, "zero": false}, "axis": null},
           "y": {"datum": 4.2, "type": "quantitative", "scale": {"type": "log", "domain": [0.001, 10], "nice": false}, "axis": null}
         }}
      ],
      "resolve": {"scale": {"x": "independent", "y": "independent"}}
    }
  ]
}
